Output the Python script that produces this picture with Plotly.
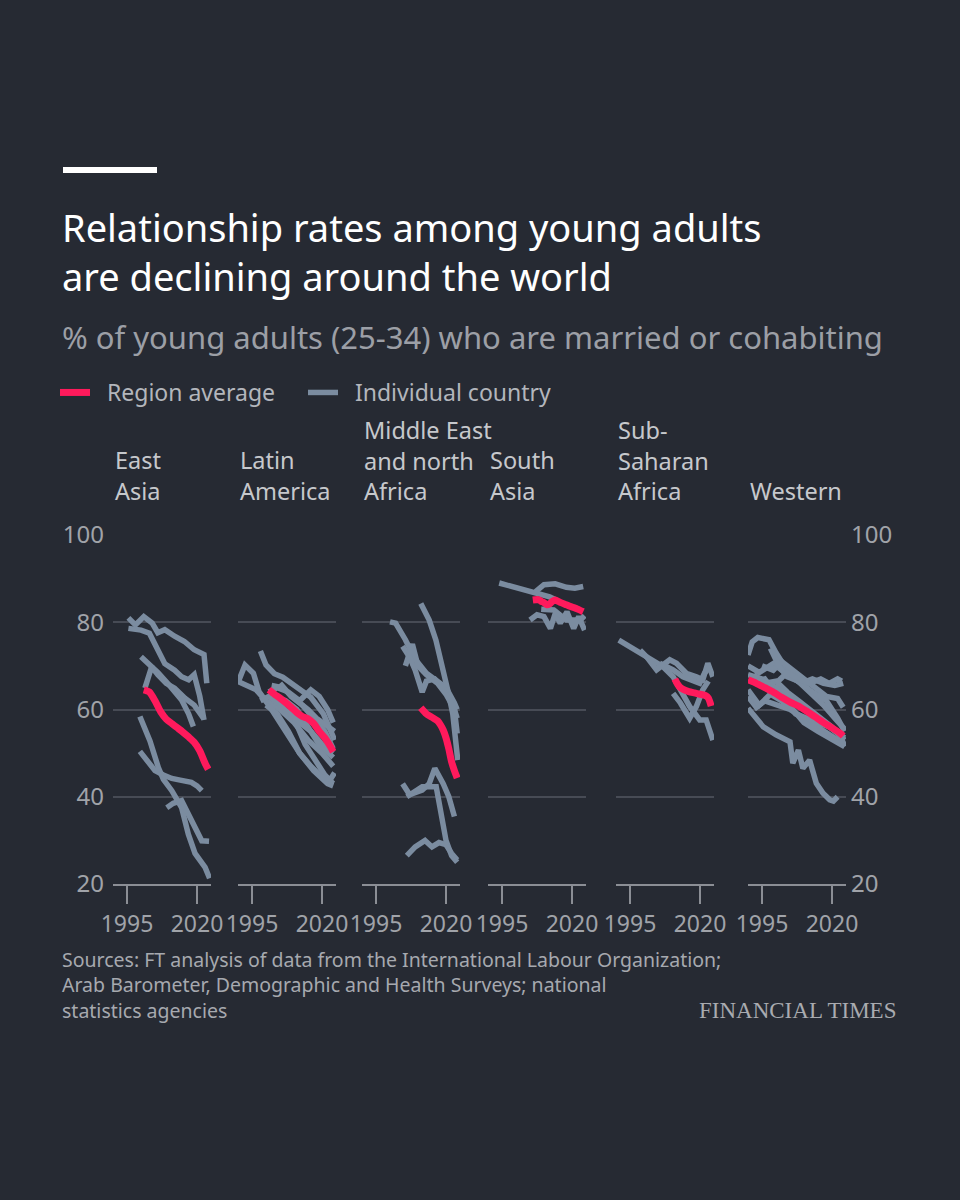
import plotly.graph_objects as go
from plotly.subplots import make_subplots

# Region titles, in panel order
regions = ["East<br>Asia", "Latin<br>America", "Middle East<br>and north<br>Africa",
           "South<br>Asia", "Sub-<br>Saharan<br>Africa", "Western"]

# ---- East Asia ----
ea_avg_x = [2001, 2003, 2005, 2007, 2009, 2011, 2013, 2015, 2017, 2019, 2021, 2023, 2024]
ea_avg_y = [64.5, 64.0, 62.0, 59.5, 57.8, 56.8, 55.8, 54.8, 53.7, 52.5, 50.5, 47.5, 46.3]
ea_lines_x = [
    [1995.5, 1998, 2001, 2004, 2006, 2008.5, 2012, 2015.5, 2019, 2022.5, 2023.5],
    [1995.5, 2000, 2003, 2006, 2008.5, 2012, 2014.5, 2017, 2019, 2021, 2022.5],
    [2000, 2003, 2006, 2009.5, 2012, 2014.5, 2017, 2018.7],
    [2001.4, 2003.8, 2006, 2009, 2012, 2015.7, 2019, 2022.3],
    [1999.6, 2003.2, 2006.2, 2008, 2011, 2014.5, 2016.9, 2019.3, 2022.9, 2024.5],
    [1999.6, 2002, 2005, 2008, 2011, 2014, 2018, 2020, 2021.7],
    [2009.2, 2011.5, 2014.5, 2018.1, 2021.7, 2024.3],
]
ea_lines_y = [
    [81.0, 79.4, 81.3, 79.8, 77.6, 78.3, 76.8, 75.6, 73.7, 72.6, 66.0],
    [78.6, 78.2, 77.5, 73.5, 70.5, 69.0, 67.5, 66.8, 68.0, 63.0, 57.6],
    [72.1, 70.5, 68.5, 66.0, 64.0, 62.2, 59.0, 56.1],
    [64.9, 69.8, 68.0, 66.0, 64.9, 62.6, 61.0, 58.0],
    [58.4, 52.8, 46.7, 44.0, 41.4, 37.5, 31.4, 27.0, 23.8, 21.3],
    [50.4, 48.5, 46.0, 45.0, 44.2, 43.8, 43.3, 42.5, 41.4],
    [37.5, 38.5, 39.1, 34.5, 29.9, 29.8],
]

# ---- Latin America ----
la_avg_x = [2001, 2003, 2005, 2007, 2009, 2011, 2013, 2015, 2017, 2019, 2021, 2023, 2024]
la_avg_y = [64.5, 63.5, 62.6, 61.6, 60.5, 59.3, 58.4, 57.9, 56.8, 55.0, 53.5, 51.5, 50.3]
la_lines_x = [
    [1990, 1992.5, 1995.5, 1997.5, 2002, 2007, 2012, 2017, 2022, 2024],
    [1990, 1996.5, 2000, 2005, 2010, 2015, 2020, 2024],
    [1998, 2000, 2003, 2006, 2011, 2016, 2020.5, 2022.5, 2024.5],
    [1998, 2001, 2005, 2010, 2014, 2018, 2021, 2024],
    [2001, 2004, 2008, 2012, 2016, 2019, 2022, 2024],
    [2003, 2007, 2011, 2015, 2019, 2024],
    [2000, 2004, 2008, 2012, 2016, 2020, 2023, 2024.5],
    [2005, 2009, 2013, 2017, 2021, 2024],
    [2002, 2006, 2011, 2015, 2018, 2022, 2024.5],
    [2008, 2012, 2016, 2020, 2024],
]
la_lines_y = [
    [66.2, 70.2, 68.3, 64.1, 60.0, 55.0, 50.0, 46.0, 43.0, 42.5],
    [66.4, 64.5, 62.0, 60.0, 57.0, 53.0, 50.0, 47.0],
    [73.4, 70.2, 68.2, 67.4, 65.1, 62.8, 59.0, 56.0, 53.0],
    [62.0, 63.0, 61.0, 58.0, 52.0, 48.0, 45.0, 43.0],
    [64.0, 65.0, 64.0, 62.0, 64.5, 63.0, 60.0, 57.0],
    [63.0, 62.0, 60.0, 56.0, 52.0, 49.0],
    [61.0, 59.0, 55.0, 50.0, 47.0, 44.5, 44.0, 45.5],
    [66.0, 63.0, 61.0, 58.0, 55.0, 51.0],
    [65.5, 65.0, 62.0, 60.0, 58.0, 56.0, 55.0],
    [60.0, 57.0, 55.0, 52.0, 50.0],
]

# ---- Middle East and north Africa ----
me_avg_x = [2011, 2013, 2015, 2017, 2018, 2019, 2020, 2021, 2022, 2023, 2024]
me_avg_y = [60.4, 59.0, 58.2, 57.4, 56.5, 55.3, 53.5, 51.0, 48.0, 46.0, 44.3]
me_lines_x = [
    [2000, 2002, 2005.5, 2009, 2013, 2016.5, 2020, 2023, 2024],
    [2011, 2014, 2016.4, 2018.8, 2020.6, 2022.4, 2024.2],
    [2004.5, 2007, 2009, 2011.5, 2013, 2016, 2019, 2022, 2024],
    [2005.5, 2008, 2010, 2013, 2017, 2020, 2023, 2024],
    [2004.5, 2007, 2011.5, 2014, 2016, 2019, 2021, 2023],
    [2006, 2011.5, 2016.5, 2018, 2020, 2022, 2024],
    [2006, 2009, 2012.5, 2015, 2017.5, 2020, 2022, 2024],
]
me_lines_y = [
    [80.1, 79.8, 76.0, 71.5, 68.3, 66.8, 65.0, 61.5, 60.0],
    [84.3, 80.5, 75.9, 69.8, 64.5, 59.1, 48.4],
    [74.5, 72.0, 69.0, 64.0, 66.5, 67.0, 65.0, 62.0, 58.0],
    [70.0, 75.0, 70.0, 68.0, 66.0, 63.5, 60.0, 54.5],
    [43.0, 40.5, 41.5, 43.0, 46.5, 43.0, 40.0, 35.5],
    [40.0, 42.3, 42.3, 37.5, 30.0, 26.5, 25.0],
    [26.5, 28.5, 30.0, 28.5, 29.5, 29.0, 27.0, 25.5],
]

# ---- South Asia ----
sa_avg_x = [2006, 2008, 2009, 2010, 2011, 2012, 2013, 2014, 2016, 2018, 2020, 2022, 2024]
sa_avg_y = [85.1, 85.2, 84.8, 84.5, 84.0, 84.2, 84.8, 85.1, 84.5, 84.0, 83.5, 83.0, 82.4]
sa_lines_x = [
    [1994, 2000, 2005, 2009, 2012, 2014],
    [2007, 2010, 2014, 2018, 2021, 2024],
    [2005, 2007.5, 2010, 2012.3, 2014, 2015.8, 2018.2, 2020.6, 2022.4, 2024.5],
    [2009, 2013.5, 2018, 2023, 2024.5],
]
sa_lines_y = [
    [89.0, 88.0, 87.0, 86.5, 85.8, 85.2],
    [87.0, 88.6, 88.8, 88.0, 87.8, 88.2],
    [80.5, 81.7, 81.3, 78.6, 82.0, 79.8, 82.4, 78.6, 81.3, 78.2],
    [83.0, 82.8, 80.5, 80.5, 81.5],
]

# ---- Sub-Saharan Africa ----
ss_avg_x = [2011, 2012, 2013, 2014, 2016, 2018, 2020, 2022, 2023, 2024]
ss_avg_y = [67.0, 65.8, 65.0, 64.6, 64.1, 63.8, 63.5, 63.2, 62.6, 60.8]
ss_lines_x = [
    [1991, 1995, 1999, 2002.7, 2006.8, 2010.4, 2013, 2016.3, 2019.9, 2022.2, 2024.6],
    [1998.6, 2001, 2004.5, 2007, 2009.2, 2011.6, 2015.1, 2018.7, 2021, 2022.8, 2024.6],
    [2010.4, 2013, 2016.3, 2018.7, 2021, 2023],
    [2005.6, 2010.4, 2013.9, 2016.3, 2019.9, 2021.6, 2023.4],
]
ss_lines_y = [
    [75.9, 74.4, 72.9, 71.4, 69.8, 67.5, 64.5, 60.7, 57.6, 57.6, 53.0],
    [73.6, 72.0, 69.1, 70.5, 71.4, 70.6, 68.3, 67.5, 66.8, 70.6, 67.5],
    [63.7, 61.5, 58.0, 60.7, 64.5, 66.5],
    [70.6, 69.1, 67.5, 66.8, 66.0, 68.3, 69.8],
]

# ---- Western ----
we_avg_x = [1990, 1993, 1996, 1999, 2002, 2005, 2008, 2011, 2014, 2017, 2020, 2023, 2024]
we_avg_y = [66.8, 66.0, 65.0, 64.0, 62.8, 61.7, 60.8, 59.6, 58.3, 57.0, 55.8, 54.5, 53.9]
we_lines_x = [
    [1990, 1991.5, 1993.5, 1997.5, 2000, 2003, 2007, 2012, 2017, 2021, 2024.5],
    [1990, 1994, 1999, 2004, 2009, 2013, 2017, 2021, 2024],
    [1990, 1993, 1996, 2000, 2005, 2010, 2015, 2020, 2024.5],
    [1990, 1995.5, 2000, 2005, 2006, 2008, 2009.6, 2012, 2014.4, 2016.8, 2019.2, 2020.5, 2022],
    [1990, 1994, 1998, 2002, 2006, 2010, 2015, 2020, 2024.5],
    [1992, 1996, 2000, 2004, 2008, 2012, 2016, 2020, 2024.5],
    [1995, 1999, 2002, 2006, 2010, 2014, 2018, 2022, 2024],
    [1998, 2001, 2004, 2008, 2013, 2018, 2022, 2024.5],
    [1990, 1995, 2000, 2005, 2010, 2015, 2020, 2024.5],
    [2000, 2004, 2008, 2012, 2016, 2019, 2022, 2023.5],
    [1992, 1996, 2000, 2003, 2007, 2011, 2015, 2019, 2023, 2024.5],
]
we_lines_y = [
    [72.5, 75.5, 76.5, 76.0, 73.0, 70.0, 67.0, 64.0, 61.0, 58.0, 55.5],
    [70.0, 68.5, 70.5, 68.0, 66.0, 67.0, 66.0, 65.5, 66.0],
    [63.0, 60.5, 62.0, 61.0, 60.0, 58.0, 56.0, 54.0, 52.0],
    [60.3, 56.0, 54.2, 52.6, 47.7, 50.7, 46.5, 48.4, 43.1, 40.8, 39.3, 39.0, 40.0],
    [64.5, 61.0, 63.5, 62.0, 60.0, 57.0, 55.0, 53.0, 51.5],
    [68.0, 66.0, 66.5, 64.0, 62.0, 60.0, 58.0, 56.0, 53.0],
    [70.0, 69.0, 71.0, 69.0, 67.0, 65.0, 63.0, 62.5, 60.5],
    [74.0, 70.0, 67.5, 66.5, 64.0, 62.0, 58.0, 55.0],
    [68.0, 67.0, 65.0, 63.0, 60.5, 58.0, 55.5, 53.5],
    [66.0, 68.5, 67.0, 66.0, 67.0, 66.0, 67.0, 66.5],
    [66.0, 67.0, 63.5, 62.0, 59.0, 58.0, 57.0, 56.0, 54.0, 51.5],
]

avg_x = [ea_avg_x, la_avg_x, me_avg_x, sa_avg_x, ss_avg_x, we_avg_x]
avg_y = [ea_avg_y, la_avg_y, me_avg_y, sa_avg_y, ss_avg_y, we_avg_y]
lines_x = [ea_lines_x, la_lines_x, me_lines_x, sa_lines_x, ss_lines_x, we_lines_x]
lines_y = [ea_lines_y, la_lines_y, me_lines_y, sa_lines_y, ss_lines_y, we_lines_y]

year_ticks = [1995, 2020]
value_ticks = [20, 40, 60, 80, 100]

# Colours and fonts
BG = "#262a33"
RED = "#ff1a5c"
GREY_LINE = "#7b8ca0"
GRID = "#474b55"
AXIS = "#8b8e95"
LABEL = "#a0a3a9"
FONT = "Noto Sans"
NBSP = "\u00a0"

W, H = 960, 1200


def px_x(p):
    return p / W


def px_y(p):
    return 1 - p / H


# left edge of each panel in pixels, each panel is 98px wide
panel_left = [113, 238, 362, 488, 616, 748]
panel_width = 98

fig = make_subplots(rows=1, cols=6)

for i in range(6):
    col = i + 1
    for j, (xs, ys) in enumerate(zip(lines_x[i], lines_y[i])):
        fig.add_trace(go.Scatter(x=xs, y=ys, mode="lines",
                                 line=dict(color=GREY_LINE, width=5.5),
                                 name=NBSP * 2 + "Individual country", legendgroup="c",
                                 legendrank=2,
                                 showlegend=(i == 0 and j == 0),
                                 hoverinfo="skip"), row=1, col=col)
    fig.add_trace(go.Scatter(x=avg_x[i], y=avg_y[i], mode="lines",
                             line=dict(color=RED, width=7, shape="spline", smoothing=0.6),
                             name=NBSP * 2 + "Region average", legendgroup="r",
                             legendrank=1,
                             showlegend=(i == 0),
                             hoverinfo="skip"), row=1, col=col)

    fig.update_xaxes(row=1, col=col,
                     domain=[px_x(panel_left[i]), px_x(panel_left[i] + panel_width)],
                     range=[1990, 2025], tickvals=year_ticks,
                     showgrid=False, zeroline=False,
                     showline=True, linecolor=AXIS, linewidth=2,
                     ticks="outside", ticklen=18, tickwidth=2, tickcolor=AXIS,
                     ticklabelstandoff=0,
                     tickfont=dict(family=FONT, size=23, color=LABEL))
    fig.update_yaxes(row=1, col=col,
                     domain=[px_y(884), px_y(535)],
                     range=[20, 100], tickvals=value_ticks,
                     showgrid=True, gridcolor=GRID, gridwidth=1.5,
                     zeroline=False, showline=False,
                     showticklabels=(i in (0, 5)),
                     side=("right" if i == 5 else "left"),
                     ticklabelstandoff=(8 if i == 0 else 4),
                     tickfont=dict(family=FONT, size=24, color=LABEL))

    fig.add_annotation(text=regions[i], xref=f"x{'' if col == 1 else col} domain",
                       yref="paper", x=0, y=px_y(509), xanchor="left",
                       yanchor="bottom", align="left", showarrow=False,
                       font=dict(family=FONT, size=23.5, color="#c6c8cc"))

# top rule
fig.add_shape(type="rect", xref="paper", yref="paper",
              x0=px_x(63), x1=px_x(157), y0=px_y(173), y1=px_y(167),
              fillcolor="white", line_width=0)

fig.add_annotation(text="Relationship rates among young adults<br>are declining around the world",
                   xref="paper", yref="paper", x=px_x(60), y=px_y(199),
                   xanchor="left", yanchor="top", align="left", showarrow=False,
                   font=dict(family=FONT, size=38, color="white"))

fig.add_annotation(text="% of young adults (25-34) who are married or cohabiting",
                   xref="paper", yref="paper", x=px_x(60), y=px_y(337),
                   xanchor="left", yanchor="middle", align="left", showarrow=False,
                   font=dict(family=FONT, size=31, color="#9c9fa6"))

fig.add_annotation(text="Sources: FT analysis of data from the International Labour Organization;<br>"
                        "Arab Barometer, Demographic and Health Surveys; national<br>"
                        "statistics agencies",
                   xref="paper", yref="paper", x=px_x(60), y=px_y(944),
                   xanchor="left", yanchor="top", align="left", showarrow=False,
                   font=dict(family=FONT, size=19.5, color="#a6a9af"))

fig.add_annotation(text="FINANCIAL TIMES", xref="paper", yref="paper",
                   x=px_x(898), y=px_y(1010), xanchor="right", yanchor="middle",
                   showarrow=False,
                   font=dict(family="Liberation Serif", size=23, color="#a9abb0"))

fig.update_layout(
    width=W, height=H,
    margin=dict(l=0, r=0, t=0, b=0, autoexpand=False),
    paper_bgcolor=BG, plot_bgcolor=BG,
    font=dict(family=FONT, color=LABEL),
    showlegend=True,
    legend=dict(orientation="h", x=px_x(55), y=px_y(371),
                xanchor="left", yanchor="top",
                entrywidth=203, entrywidthmode="pixels",
                itemwidth=30, bgcolor="rgba(0,0,0,0)",
                font=dict(family=FONT, size=23, color="#b3b6bc")),
)

fig.write_html("out.html", config={"displayModeBar": False},
               post_script="document.body.style.margin='0';"
                           "document.body.style.overflow='hidden';")
